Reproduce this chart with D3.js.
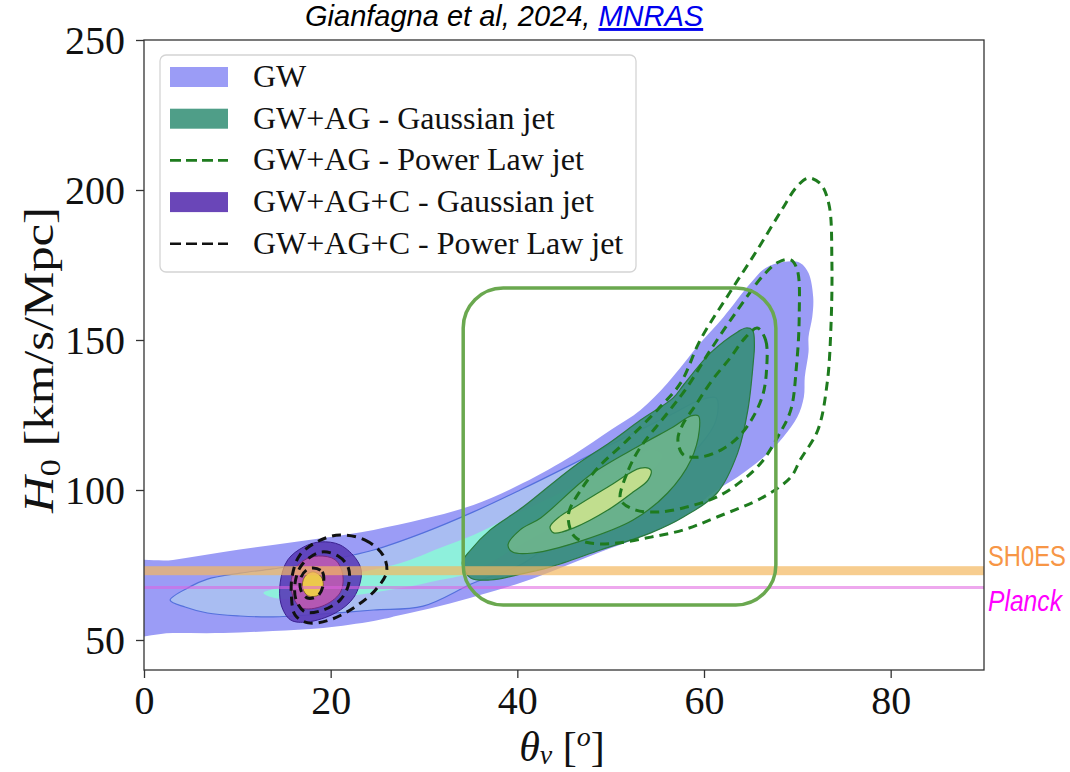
<!DOCTYPE html>
<html><head><meta charset="utf-8">
<script src="https://cdn.jsdelivr.net/npm/d3@7"></script>
<style>body{margin:0;background:#fff} svg{display:block}</style>
</head><body>
<svg id="c" width="1070" height="772"></svg>
<script>
// ---- axes / ticks ----
const xDomain=[0,90];
const yDomain=[40,250];
const xTicks=[0,20,40,60,80];
const yTicks=[50,100,150,200,250];

// ---- GW (filled, three levels) [theta_v, H0] ----
const gwOuter=[[-3,74.7],[3.1,76.7],[8.5,79.3],[13.8,81.7],[19.2,84.0],[24.6,86.7],[29.9,90.3],[35.3,95.0],[40.6,102.3],[46.0,111.7],[50.0,120.0],[53.2,126.7],[56.1,135.7],[59.6,149.0],[62.1,157.7],[65.0,169.0],[66.6,174.0],[68.5,176.0],[70.3,175.7],[71.2,172.3],[71.7,164.3],[71.6,157.7],[71.2,151.0],[71.2,146.0],[70.8,137.7],[70.7,131.0],[70.0,124.3],[68.5,117.7],[66.4,111.0],[63.6,104.3],[60.9,99.0],[57.8,91.0],[53.2,84.3],[48.9,79.3],[44.6,74.0],[40.6,69.3],[36.0,65.0],[31.7,61.3],[27.5,58.3],[24.6,56.3],[19.2,54.0],[13.8,53.0],[8.5,52.3],[3.1,52.3],[-3,52.3]];
const gwMid=[[2.8,63.3],[4.9,67.7],[6.8,70.3],[10.3,72.3],[13.8,73.7],[19.2,76.3],[24.6,80.0],[29.9,85.7],[35.3,92.7],[40.3,100.0],[45.7,108.3],[51.0,116.7],[56.4,125.0],[59.6,130.0],[61.3,130.7],[61.3,123.3],[59.6,115.0],[56.4,106.0],[52.1,97.7],[47.8,90.0],[43.5,81.7],[40.3,75.0],[35.3,69.0],[29.9,61.3],[24.6,60.0],[19.2,58.7],[13.8,57.7],[10.3,58.0],[6.8,59.0],[4.4,61.0]];
const gwInner=[[12.8,65.7],[16.7,68.7],[21.0,71.3],[27.5,75.7],[31.7,80.7],[35.3,85.0],[40.3,92.7],[45.7,100.7],[51.0,109.0],[54.5,113.3],[55.5,111.7],[54.0,105.0],[50.0,97.7],[45.7,90.7],[40.3,81.7],[35.3,72.7],[31.7,70.0],[27.5,67.3],[21.0,64.3],[16.7,63.7],[14.0,64.0]];

// ---- GW+AG Gaussian jet (filled) ----
const agOuter=[[34.1,75.7],[35.0,80.0],[37.1,86.7],[40.6,94.3],[46.0,107.7],[50.0,116.0],[53.2,123.3],[56.7,130.7],[57.8,135.0],[60.7,145.7],[63.6,152.7],[64.5,154.0],[65.2,153.3],[65.4,148.3],[65.3,143.3],[64.7,126.7],[63.6,112.3],[61.4,99.0],[57.8,91.0],[54.3,85.7],[48.9,80.0],[43.5,74.3],[40.0,71.7],[37.1,70.0],[35.0,70.7]];
const agMid=[[39.0,81.7],[40.3,86.7],[42.5,90.7],[47.8,105.0],[53.2,115.0],[56.7,121.0],[58.6,124.7],[59.4,124.7],[59.5,120.0],[58.6,110.0],[56.1,99.0],[52.4,90.0],[47.1,83.3],[41.7,79.0],[39.5,79.3]];
const agInner=[[43.5,87.7],[44.6,91.3],[46.0,94.0],[49.7,101.0],[53.2,107.3],[54.3,106.7],[54.0,103.3],[52.4,99.3],[49.7,93.3],[46.0,87.3],[43.9,85.7]];

// ---- GW+AG Power Law jet (dashed green) ----
const plOuter=[[45.7,86.7],[45.5,92.3],[46.8,100.0],[48.6,107.3],[51.8,116.7],[55.0,126.7],[57.5,135.7],[59.6,150.0],[62.8,166.0],[65.7,180.0],[68.2,192.7],[70.0,201.3],[71.2,204.0],[72.5,202.0],[73.4,195.0],[73.7,176.7],[73.6,154.3],[73.2,135.7],[72.2,120.0],[70.3,110.0],[69.3,104.3],[66.4,97.7],[61.4,91.0],[57.8,86.7],[54.3,84.3],[50.7,82.3],[47.8,82.3],[46.3,84.0]];
const plMid=[[51.0,97.7],[51.9,106.7],[53.2,114.3],[56.1,125.7],[58.2,134.3],[60.7,146.7],[63.6,160.0],[66.4,171.7],[68.0,176.0],[69.3,176.7],[70.0,173.3],[70.2,157.7],[69.9,141.0],[69.3,126.7],[67.9,117.7],[66.1,109.0],[63.9,102.7],[61.4,97.7],[58.6,94.7],[55.3,92.7],[52.7,93.3],[51.3,95.7]];
const plInner=[[65.7,154.0],[66.6,150.0],[66.7,140.0],[66.3,131.7],[65.2,124.0],[63.7,117.7],[61.8,113.3],[59.6,111.0],[57.8,111.7],[57.2,116.7],[57.7,121.7],[59.1,128.3],[60.9,136.7],[62.8,144.0],[64.4,150.7]];

// ---- GW+AG+C Gaussian jet (filled) ----
const cOuter=[[18.9,82.7],[21.0,81.7],[22.8,76.7],[23.3,72.3],[22.5,64.3],[20.5,59.0],[17.5,56.0],[15.7,56.7],[14.7,61.7],[14.6,69.3],[15.4,76.7],[17.1,81.0]];
const cMid=[[18.7,78.0],[20.5,76.7],[21.3,71.7],[21.0,65.7],[19.1,61.3],[16.9,60.7],[15.9,65.0],[15.9,71.7],[17.0,76.3]];
const cInner=[[18.1,72.7],[19.0,71.0],[19.2,68.0],[18.7,65.0],[17.6,64.7],[17.0,67.3],[17.2,71.0]];

// ---- GW+AG+C Power Law jet (dashed black) ----
const cplOuter=[[21.0,85.0],[23.7,83.3],[25.6,78.3],[26.0,72.7],[24.8,66.7],[22.6,61.0],[19.9,56.7],[17.6,55.7],[16.2,58.3],[15.8,64.3],[15.9,71.7],[16.7,78.3],[18.7,83.0]];
const cplMid=[[18.9,79.3],[20.8,78.0],[21.9,74.0],[21.9,68.3],[21.0,63.3],[19.2,60.0],[17.3,59.3],[16.3,63.3],[16.2,69.3],[16.9,75.0]];
const cplInner=[[18.1,74.0],[19.1,72.7],[19.2,68.3],[18.6,64.7],[17.5,64.0],[16.8,66.7],[16.8,70.7],[17.4,73.3]];

// ---- reference bands ----
const shoesBand=[71.6,74.6];
const planckBand=[67.0,68.0];
// highlighted region (theta range, H0 range)
const boxTheta=[34.2,67.7];
const boxH0=[61.7,167.3];

const legendLabels=["GW","GW+AG - Gaussian jet","GW+AG - Power Law jet","GW+AG+C - Gaussian jet","GW+AG+C - Power Law jet"];
const legendKinds=["patch","patch","dash","patch","dash"];
const legendColors=["#9b9cf6","#4f9e88","#1e7b1e","#6a46b8","#111111"];

// ---- drawing ----
const svg=d3.select("#c");
const L=144,R=984,T=40,B=670;
const x=d3.scaleLinear().domain(xDomain).range([L,R]);
const y=d3.scaleLinear().domain(yDomain).range([B,T]);
const line=d3.line().x(d=>x(d[0])).y(d=>y(d[1])).curve(d3.curveCatmullRomClosed.alpha(0.5));

svg.append("defs").append("clipPath").attr("id","clip").append("rect")
  .attr("x",L).attr("y",T).attr("width",R-L).attr("height",B-T);
const g=svg.append("g").attr("clip-path","url(#clip)");

function fillC(data,fill,stroke,sw,op){
  g.append("path").attr("d",line(data)).attr("fill",fill).attr("fill-opacity",op)
   .attr("stroke",stroke).attr("stroke-width",sw);
}
function dashC(data,color){
  g.append("path").attr("d",line(data)).attr("fill","none").attr("stroke",color)
   .attr("stroke-width",3).attr("stroke-dasharray","9,6");
}
fillC(gwOuter,"#9b9cf6","none",0,1);
fillC(gwMid,"#a9bdf2","#5470dc",1.2,1);
fillC(gwInner,"#8ef0dc","none",0,1);
fillC(agOuter,"#3a8e7e","#2a7a40",1.2,0.95);
fillC(agMid,"#6cb38c","#2a7a30",1.2,0.95);
fillC(agInner,"#c6e08e","#2a7a30",1.2,0.95);
fillC(cOuter,"#5a3cb8","#3a2090",1,0.9);
fillC(cMid,"#b85ab2","#7a2a80",1,0.95);
fillC(cInner,"#ecc84c","#7a5a20",0.8,1);

// bands
g.append("rect").attr("x",L).attr("width",R-L).attr("y",y(shoesBand[1])).attr("height",y(shoesBand[0])-y(shoesBand[1]))
  .attr("fill","#f4b860").attr("fill-opacity",0.7);
g.append("rect").attr("x",L).attr("width",R-L).attr("y",y(planckBand[1])).attr("height",y(planckBand[0])-y(planckBand[1]))
  .attr("fill","#e060e0").attr("fill-opacity",0.55);

[plOuter,plMid,plInner].forEach(d=>dashC(d,"#1e7b1e"));
[cplOuter,cplMid,cplInner].forEach(d=>dashC(d,"#111"));

// frame
svg.append("rect").attr("x",L).attr("y",T).attr("width",R-L).attr("height",B-T)
  .attr("fill","none").attr("stroke","#333").attr("stroke-width",1.3);

const serif="'Liberation Serif','Times New Roman',serif";
const ax=svg.append("g").attr("transform",`translate(0,${B})`)
  .call(d3.axisBottom(x).tickValues(xTicks).tickSize(8).tickPadding(8).tickFormat(d3.format("d")));
const ay=svg.append("g").attr("transform",`translate(${L},0)`)
  .call(d3.axisLeft(y).tickValues(yTicks).tickSize(8).tickPadding(11).tickFormat(d3.format("d")));
[ax,ay].forEach(a=>{
  a.select(".domain").remove();
  a.selectAll("line").attr("stroke","#333").attr("stroke-width",1.3);
  a.selectAll("text").attr("font-family",serif).attr("font-size",40).attr("fill","#111");
});
ay.selectAll("text").attr("dy","0.33em");

// axis labels
const xl=svg.append("text").attr("x",562).attr("y",761).attr("text-anchor","middle")
  .attr("font-family",serif).attr("font-size",42).attr("fill","#111");
xl.append("tspan").attr("font-style","italic").text("θ");
xl.append("tspan").attr("font-style","italic").attr("font-size",28).attr("dy",3).text("v");
xl.append("tspan").attr("dy",-3).text(" [");
xl.append("tspan").attr("font-style","italic").attr("font-size",28).attr("dy",-15).text("o");
xl.append("tspan").attr("dy",15).text("]");

const yl=svg.append("text").attr("transform","translate(53,360) rotate(-90) scale(1.18,1)").attr("text-anchor","middle")
  .attr("font-family",serif).attr("font-size",43).attr("fill","#111");
yl.append("tspan").attr("font-style","italic").text("H");
yl.append("tspan").attr("font-size",29).attr("dy",7).text("0");
yl.append("tspan").attr("dy",-7).text(" [km/s/Mpc]");

// highlight box
svg.append("rect").attr("x",x(boxTheta[0])).attr("y",y(boxH0[1]))
  .attr("width",x(boxTheta[1])-x(boxTheta[0])).attr("height",y(boxH0[0])-y(boxH0[1]))
  .attr("rx",40).attr("ry",40).attr("fill","none").attr("stroke","#6aa84f").attr("stroke-width",3.5);

// legend
const lg=svg.append("g");
lg.append("rect").attr("x",160).attr("y",55).attr("width",476).attr("height",217).attr("rx",6)
  .attr("fill","#fff").attr("fill-opacity",0.85).attr("stroke","#d4d4d4").attr("stroke-width",1.3);
legendLabels.forEach((lab,i)=>{
  const cy=77+i*41.7;
  if(legendKinds[i]==="patch"){
    lg.append("rect").attr("x",170).attr("y",cy-10).attr("width",58).attr("height",20).attr("fill",legendColors[i]);
  } else {
    lg.append("line").attr("x1",170).attr("x2",228).attr("y1",cy).attr("y2",cy)
      .attr("stroke",legendColors[i]).attr("stroke-width",2.6).attr("stroke-dasharray","11,5");
  }
  lg.append("text").attr("x",253).attr("y",cy+10).attr("font-family",serif).attr("font-size",32)
    .attr("fill","#111").text(lab);
});

// title
const tt=svg.append("text").attr("x",305).attr("y",26).attr("font-family","'Liberation Sans',Arial,sans-serif")
  .attr("font-style","italic").attr("font-size",29).attr("fill","#000");
tt.append("tspan").text("Gianfagna et al, 2024, ");
tt.append("tspan").attr("fill","#0000ee").attr("text-decoration","underline").text("MNRAS");

// band labels
const sans="'Liberation Sans',Arial,sans-serif";
svg.append("text").attr("transform","translate(988,566) scale(0.82,1)").attr("font-family",sans)
  .attr("font-size",29).attr("fill","#f79646").text("SH0ES");
svg.append("text").attr("transform","translate(988,611) scale(0.85,1)").attr("font-family",sans)
  .attr("font-size",29).attr("font-style","italic").attr("fill","#ff00ff").text("Planck");
</script>
</body></html>
